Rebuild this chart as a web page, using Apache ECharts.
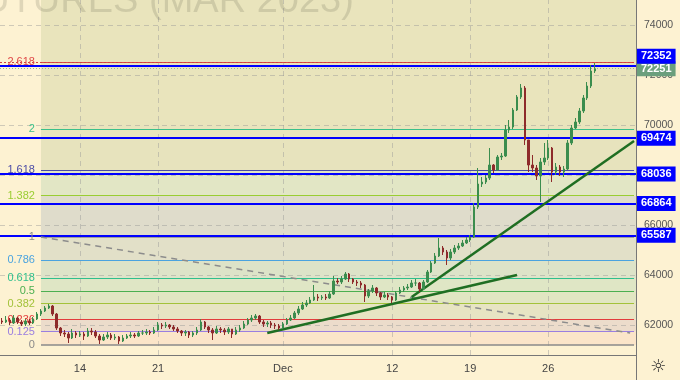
<!DOCTYPE html>
<html><head><meta charset="utf-8">
<script src="https://cdn.jsdelivr.net/npm/echarts@6/dist/echarts.min.js"></script>
<style>html,body{margin:0;padding:0;background:#fdf2d2;}#c{width:680px;height:380px;}</style>
</head><body><div id="c"></div>
<script>
// ---------- DATA ----------
const tradingDays = [
  '2022-11-07','2022-11-08','2022-11-09','2022-11-10','2022-11-11',
  '2022-11-14','2022-11-15','2022-11-16','2022-11-17','2022-11-18',
  '2022-11-21','2022-11-22','2022-11-23','2022-11-24','2022-11-25',
  '2022-11-28','2022-11-29','2022-11-30','2022-12-01','2022-12-02',
  '2022-12-05','2022-12-06','2022-12-07','2022-12-08','2022-12-09',
  '2022-12-12','2022-12-13','2022-12-14','2022-12-15','2022-12-16',
  '2022-12-19','2022-12-20','2022-12-21','2022-12-22','2022-12-23',
  '2022-12-26','2022-12-27','2022-12-28','2022-12-29','2022-12-30',
  '2023-01-03'
];
const slotsPerDay = 4;
const futureSlots = 10;
const firstOpen = 62160;
const closes = [62120,
  62200,62080,62280,62120,62040,62160,62080,62240,62440,62560,
  62680,62760,62440,61880,61680,61640,61480,61680,61600,61640,
  61560,61760,61720,61560,61400,61520,61600,61480,61520,61360,
  61480,61560,61600,61560,61680,61680,61720,61680,61800,62000,
  61960,62000,61920,61840,61760,61680,61720,61600,61680,61800,
  62120,61920,61800,61680,61840,61800,61720,61840,61640,61800,
  61880,62040,62200,62280,62360,62120,62040,62080,62000,61960,
  61880,62040,62200,62280,62480,62640,62800,62880,63000,63120,
  63080,63120,63080,63240,63760,63720,63840,64040,63840,63720,
  63680,63600,63160,63360,63480,63280,63120,63200,63120,63000,
  63280,63400,63480,63520,63680,63680,63440,63720,64120,64480,
  64760,65080,64920,64680,64920,65080,65160,65280,65400,65520,
  66720,67640,67720,67880,68400,68200,68720,68760,69800,69920,
  70600,71120,71480,69400,68400,68280,67960,68520,68680,69080,
  68120,68320,68120,68240,69280,69880,70120,70560,71080,71560,
  72160,72251];
const highs = [62280,
  62360,62280,62400,62320,62200,62240,62240,62320,62520,62640,
  62760,62840,62800,62480,61920,61800,61720,61840,61760,61760,
  61720,61880,61880,61800,61640,61640,61720,61680,61640,61560,
  61600,61640,61720,61680,61760,61800,61840,61800,61920,62120,
  62080,62120,62040,62000,61920,61800,61800,61760,61760,61920,
  62240,62160,61960,61880,61960,61920,61880,61920,61840,61920,
  62000,62160,62280,62400,62440,62400,62200,62160,62160,62080,
  62040,62120,62280,62400,62560,62760,62920,63000,63120,63600,
  63240,63200,63240,63360,63960,63880,63960,64120,64080,63880,
  63800,63760,63640,63440,63600,63520,63320,63320,63280,63160,
  63360,63520,63560,63640,63800,63840,63720,63800,64200,64560,
  64880,65480,65160,65000,65040,65200,65280,65400,65520,65600,
  66880,68280,67920,68000,69080,68440,68800,68880,70000,70200,
  70680,71200,71640,71560,69400,68800,68400,68680,69280,69400,
  69120,68480,68400,68360,69400,70000,70280,70680,71200,71720,
  72400,72480];
const lows = [62040,
  62080,62000,62040,62040,61960,61960,62000,62040,62200,62360,
  62520,62640,62360,61800,61560,61520,61280,61440,61480,61520,
  61400,61520,61600,61480,61240,61360,61440,61400,61400,61240,
  61320,61440,61480,61480,61520,61600,61600,61600,61640,61760,
  61840,61880,61840,61760,61680,61560,61560,61480,61520,61600,
  61760,61840,61680,61400,61640,61680,61600,61640,61480,61600,
  61720,61840,62000,62120,62200,62040,61920,61920,61880,61840,
  61800,61840,62000,62160,62240,62400,62600,62720,62840,62960,
  62960,63000,63000,63040,63200,63640,63640,63800,63720,63640,
  63560,63480,62920,63080,63280,63160,63000,63080,63000,62880,
  62960,63240,63320,63400,63480,63560,63320,63400,63680,64080,
  64440,64720,64800,64400,64600,64840,65000,65120,65240,65320,
  65480,66640,67520,67640,67800,68080,68160,68600,68720,69680,
  69840,70560,71040,69200,68120,68120,67800,66920,68400,68600,
  67720,68000,67960,67920,68200,69200,69840,70040,70480,71000,
  71480,72080];

const xTickDays = ['2022-11-14','2022-11-21','2022-12-01','2022-12-12','2022-12-19','2022-12-26'];
const xTickLabels = ['14','21','Dec','12','19','26'];
const yTicks = [62000,64000,66000,68000,70000,72000,74000];

const hLines = [72352, 69474, 68036, 66864, 65587];

// Fibonacci: anchor (time slot, value of level 1) and value of level 0
const fibAnchor = '2022-11-09 2';
const fibLevel1Value = 65520;
const fibLevel0Value = 61200;
const fibLevels = [0, 0.125, 0.236, 0.382, 0.5, 0.618, 0.786, 1, 1.382, 1.618, 2, 2.618];
const fibLabels = ['0','0.125','0.236','0.382','0.5','0.618','0.786','1','1.382','1.618','2','2.618'];

// trend lines [slot, price]
const trendA = [['2022-11-30 0', 61680], ['2022-12-22 0', 64000]];
const trendB = [['2022-12-13 1', 63120], ['2023-01-03 2', 69360]];
const fibDiagonal = [['2022-11-09 2', 65520], ['2023-01-03 1', 61680]];

// ---------- STYLE ----------
const fibColors = ['#8a8a8a','#9a7ee0','#e23c3c','#a3c23a','#4caf50','#2fbf8c','#4aa3df','#8a8a8a','#9acd32','#4b4ba6','#3cc08a','#e04848'];
const bandColors = ['#fbe5c9','#ecdccb','#e7e4c3','#e1e6c2','#dfe6c5','#dde3c8','#e2e0c8','#dfdccb','#e2e6c5','#e7e3bd','#e9e4bc','#e9e4bc'];

// ---------- BUILD ----------
const cats = [];
tradingDays.forEach(d => { for (let s = 0; s < slotsPerDay; s++) cats.push(d + ' ' + s); });
cats.length = closes.length + futureSlots;
const lastCat = cats[cats.length - 1];

const candle = closes.map((c, i) => [i === 0 ? firstOpen : closes[i - 1], c, lows[i], highs[i]]);

const tickMap = {};
xTickDays.forEach((d, i) => { tickMap[d + ' 0'] = xTickLabels[i]; });

const fibVal = l => fibLevel0Value + l * (fibLevel1Value - fibLevel0Value);

const bands = fibLevels.map((l, i) => {
  const lo = fibVal(l);
  const hiPt = i < fibLevels.length - 1 ? { yAxis: fibVal(fibLevels[i + 1]) } : {};
  return [{ xAxis: fibAnchor, yAxis: lo, itemStyle: { color: bandColors[i], opacity: 1 } }, hiPt];
});

const fibLines = fibLevels.map((l, i) => [
  { coord: [fibAnchor, fibVal(l)],
    lineStyle: { color: fibColors[i], width: (l === 0 || l === 1) ? 1.6 : 1.1, type: 'solid' },
    label: { show: true, position: 'start', formatter: fibLabels[i], color: fibColors[i], fontSize: 11, distance: 6 } },
  { coord: [lastCat, fibVal(l)] }
]);

const lastClose = closes[closes.length - 1];
const font = '"Liberation Sans", Arial, sans-serif';

const option = {
  animation: false,
  backgroundColor: '#fdf2d2',
  textStyle: { fontFamily: font },
  grid: { left: -2, right: 44, top: 0, bottom: 25, containLabel: false },
  xAxis: {
    type: 'category', data: cats, boundaryGap: true,
    axisLine: { show: true, lineStyle: { color: '#777', width: 1 } },
    axisTick: { show: false },
    splitLine: { show: false },
    axisLabel: {
      interval: (i, v) => tickMap[v] !== undefined,
      formatter: v => tickMap[v] || '',
      color: '#444', fontSize: 11, margin: 8, fontFamily: font
    }
  },
  yAxis: {
    type: 'value', position: 'right', min: 60800, max: 75000,
    axisLine: { show: true, lineStyle: { color: '#777', width: 1 } },
    axisTick: { show: false },
    splitLine: { show: false },
    axisLabel: { show: false }
  },
  graphic: [
    { type: 'text', x: -41, y: 2, z: 50, silent: true,
      style: { text: 'FUTURES (MAR 2023)', font: '38px "Liberation Sans"', fill: 'rgba(80,80,60,0.17)', verticalAlign: 'middle' } },
    { type: 'line', shape: { x1: 636.5, y1: 355, x2: 636.5, y2: 380 }, style: { stroke: '#777', lineWidth: 1 } },
    { type: 'text', x: 658, y: 367, style: { text: '\u263C', font: '18px "DejaVu Sans"', fill: '#333', align: 'center', verticalAlign: 'middle' } }
  ],
  series: [
    { type: 'line', data: [], z: 1, silent: true,
      markArea: { silent: true, data: bands } },
    { type: 'line', data: [], z: 2, silent: true,
      markLine: { silent: true, symbol: ['none', 'none'], label: { show: false },
        lineStyle: { color: 'rgba(150,150,150,0.45)', width: 1, type: [5, 4] },
        data: xTickDays.map(d => ({ xAxis: d + ' 0' })) } },
    // horizontal grid lines carrying the y-axis tick labels on the right
    { type: 'line', data: [], z: 2, silent: true,
      markLine: { silent: true, symbol: ['none', 'none'],
        lineStyle: { color: 'rgba(150,150,150,0.45)', width: 1, type: [5, 4] },
        label: { show: true, position: 'end', formatter: p => String(p.value), color: '#555', fontSize: 10.5, distance: 8, fontFamily: font },
        data: yTicks.map(v => ({ yAxis: v })) } },
    { type: 'line', data: [], z: 3, silent: true,
      markLine: { silent: true, symbol: ['none', 'none'], data: fibLines } },
    { type: 'line', data: [], z: 3, silent: true,
      markLine: { silent: true, symbol: ['none', 'none'], label: { show: false },
        lineStyle: { color: '#d04040', width: 1, type: [2, 2] },
        data: [{ yAxis: fibVal(2.618) }] } },
    { type: 'line', data: [], z: 4, silent: true,
      markLine: { silent: true, symbol: ['none', 'none'],
        lineStyle: { color: '#8fb59a', width: 1, type: [1, 2] },
        label: { show: true, position: 'end', formatter: p => String(p.value), color: '#fff', backgroundColor: '#6b9f7d',
          fontSize: 11, fontWeight: 'bold', padding: [2, 4, 2, 4], distance: 1 },
        data: [{ yAxis: lastClose }] } },
    { type: 'candlestick', name: 'price', data: candle, z: 5, barWidth: 2,
      itemStyle: { color: '#3b8d4e', color0: '#8e2b2b', borderColor: '#3b8d4e', borderColor0: '#8e2b2b', borderWidth: 1 } },
    { type: 'line', data: [], z: 6, silent: true,
      markLine: { silent: true, symbol: ['none', 'none'],
        lineStyle: { color: '#0000ff', width: 2, type: 'solid' },
        label: { show: true, position: 'end', formatter: p => String(p.value), color: '#fff', backgroundColor: '#0000ff',
          fontSize: 11, fontWeight: 'bold', padding: [2, 4, 2, 4], distance: 1 },
        data: hLines.map((v, i) => i === 0 ? { yAxis: v, label: { offset: [0, -10] } } : { yAxis: v }) } },
    { type: 'line', data: [], z: 7, silent: true,
      markLine: { silent: true, symbol: ['none', 'none'], label: { show: false },
        data: [
          [{ coord: fibDiagonal[0], lineStyle: { color: '#8c8c8c', width: 1.5, type: [6, 5] } }, { coord: fibDiagonal[1] }],
          [{ coord: trendA[0], lineStyle: { color: '#1f6e22', width: 2.5, type: 'solid' } }, { coord: trendA[1] }],
          [{ coord: trendB[0], lineStyle: { color: '#1f6e22', width: 2.5, type: 'solid' } }, { coord: trendB[1] }]
        ] } }
  ]
};
const chart = echarts.init(document.getElementById('c'));
chart.setOption(option);
</script>
</body></html>
